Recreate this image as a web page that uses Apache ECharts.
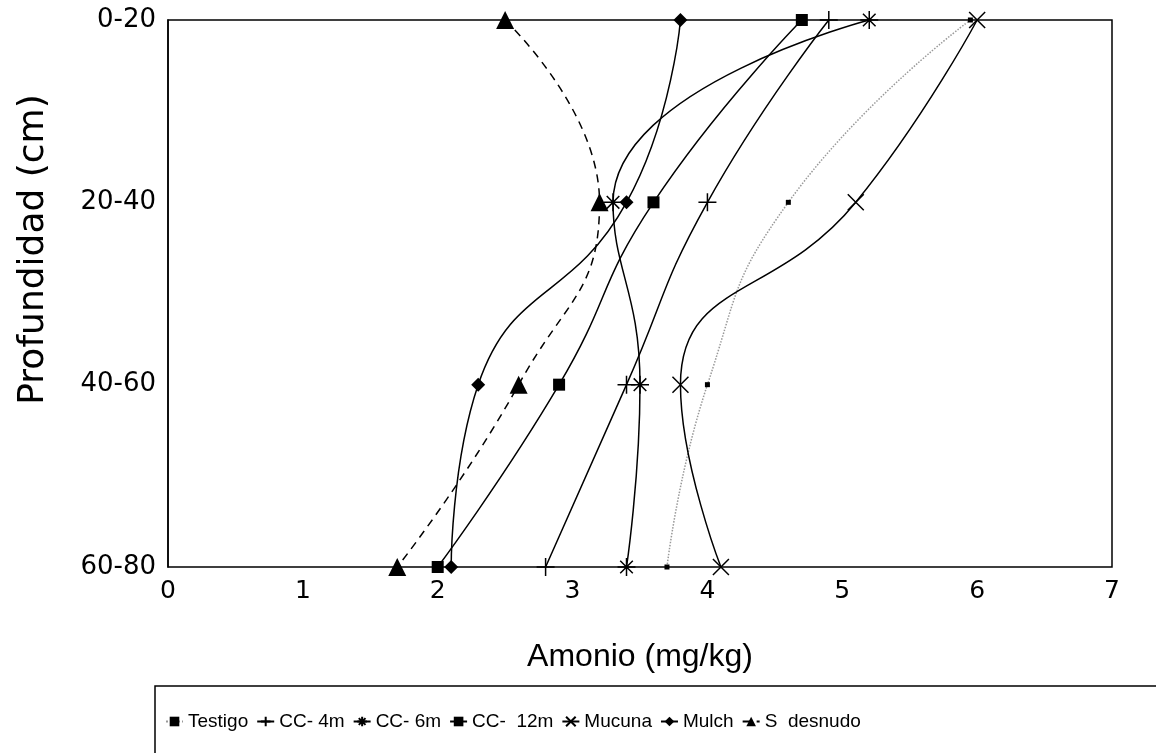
<!DOCTYPE html>
<html>
<head>
<meta charset="utf-8">
<script src="https://cdn.jsdelivr.net/npm/echarts@6/dist/echarts.min.js"></script>
<style>
  html, body { margin: 0; padding: 0; background: #fff; }
  #chart { width: 1156px; height: 753px; }
</style>
</head>
<body>
<div id="chart"></div>
<script>
// depth classes (top to bottom)
const depths = ['0-20', '20-40', '40-60', '60-80'];
const xTicks = [0, 1, 2, 3, 4, 5, 6, 7];

// amonio (mg/kg) per depth
const testigo = [5.95, 4.6, 4.0, 3.7];
const cc4m = [4.9, 4.0, 3.4, 2.8];
const cc6m = [5.2, 3.3, 3.5, 3.4];
const cc12m = [4.7, 3.6, 2.9, 2.0];
const mucuna = [6.0, 5.1, 3.8, 4.1];
const mulch = [3.8, 3.4, 2.3, 2.1];
const sDesnudo = [2.5, 3.2, 2.6, 1.7];

const plusPath = 'path://M0,5L10,5M5,0L5,10';
const starPath = 'path://M0,5L10,5M5,0L5,10M1.5,1.5L8.5,8.5M8.5,1.5L1.5,8.5';
const xPath = 'path://M0,0L10,10M10,0L0,10';

function toPoints(vals) {
    return vals.map((v, i) => [v, depths[i]]);
}

function lineSeries(name, vals, symbol, size, opts) {
    const open = symbol.indexOf('path://') === 0;
    return Object.assign({
        name: name,
        type: 'line',
        smooth: 0.5,
        data: toPoints(vals),
        symbol: symbol,
        symbolSize: size,
        showAllSymbol: true,
        lineStyle: { color: '#000', width: 1.5 },
        itemStyle: open
            ? { color: '#fff', borderColor: '#000', borderWidth: 1.5 }
            : { color: '#000', borderColor: '#000', borderWidth: 0 },
        z: 3
    }, opts || {});
}

const chart = echarts.init(document.getElementById('chart'));
chart.setOption({
    animation: false,
    textStyle: { fontFamily: 'Liberation Sans, Arial, sans-serif', color: '#000' },
    grid: {
        left: 168, right: 44, top: 20, bottom: 186,
        show: true, borderColor: '#000', borderWidth: 1.5
    },
    xAxis: {
        type: 'value',
        min: xTicks[0],
        max: xTicks[xTicks.length - 1],
        interval: 1,
        name: 'Amonio (mg/kg)',
        nameLocation: 'middle',
        nameGap: 74,
        nameTextStyle: { fontSize: 32, color: '#000' },
        axisLine: { lineStyle: { color: '#000', width: 1.5 } },
        axisTick: { show: false },
        splitLine: { show: false },
        axisLabel: { fontSize: 25, color: '#000', margin: 12, fontFamily: 'DejaVu Sans' }
    },
    yAxis: {
        type: 'category',
        data: depths,
        inverse: true,
        boundaryGap: false,
        name: 'Profundidad (cm)',
        nameLocation: 'middle',
        nameRotate: 90,
        nameGap: 116,
        nameTextStyle: {
            fontSize: 36, color: '#000', fontFamily: 'DejaVu Sans',
            padding: [0, 0, 0, 88]
        },
        axisLine: { lineStyle: { color: '#000', width: 1.5 } },
        axisTick: { show: false },
        splitLine: { show: false },
        axisLabel: { fontSize: 26, color: '#000', margin: 12, fontFamily: 'DejaVu Sans' }
    },
    legend: {
        left: 160,
        top: 707,
        itemGap: 8,
        itemWidth: 17,
        itemHeight: 12,
        textStyle: { fontSize: 19, color: '#000' }
    },
    graphic: [{
        type: 'rect',
        shape: { x: 155, y: 686, width: 1030, height: 90 },
        style: { fill: 'none', stroke: '#000', lineWidth: 1.5 }
    }],
    series: [
        lineSeries('Testigo', testigo, 'rect', 5, {
            lineStyle: { color: '#999', width: 1.5, type: 'dotted' }
        }),
        lineSeries('CC- 4m', cc4m, plusPath, 18),
        lineSeries('CC- 6m', cc6m, starPath, 18),
        lineSeries('CC-  12m', cc12m, 'rect', 12),
        lineSeries('Mucuna', mucuna, xPath, 16),
        lineSeries('Mulch', mulch, 'diamond', 14),
        lineSeries('S  desnudo', sDesnudo, 'triangle', 18, {
            lineStyle: { color: '#000', width: 1.5, type: [8, 6] }
        })
    ]
});
</script>
</body>
</html>
